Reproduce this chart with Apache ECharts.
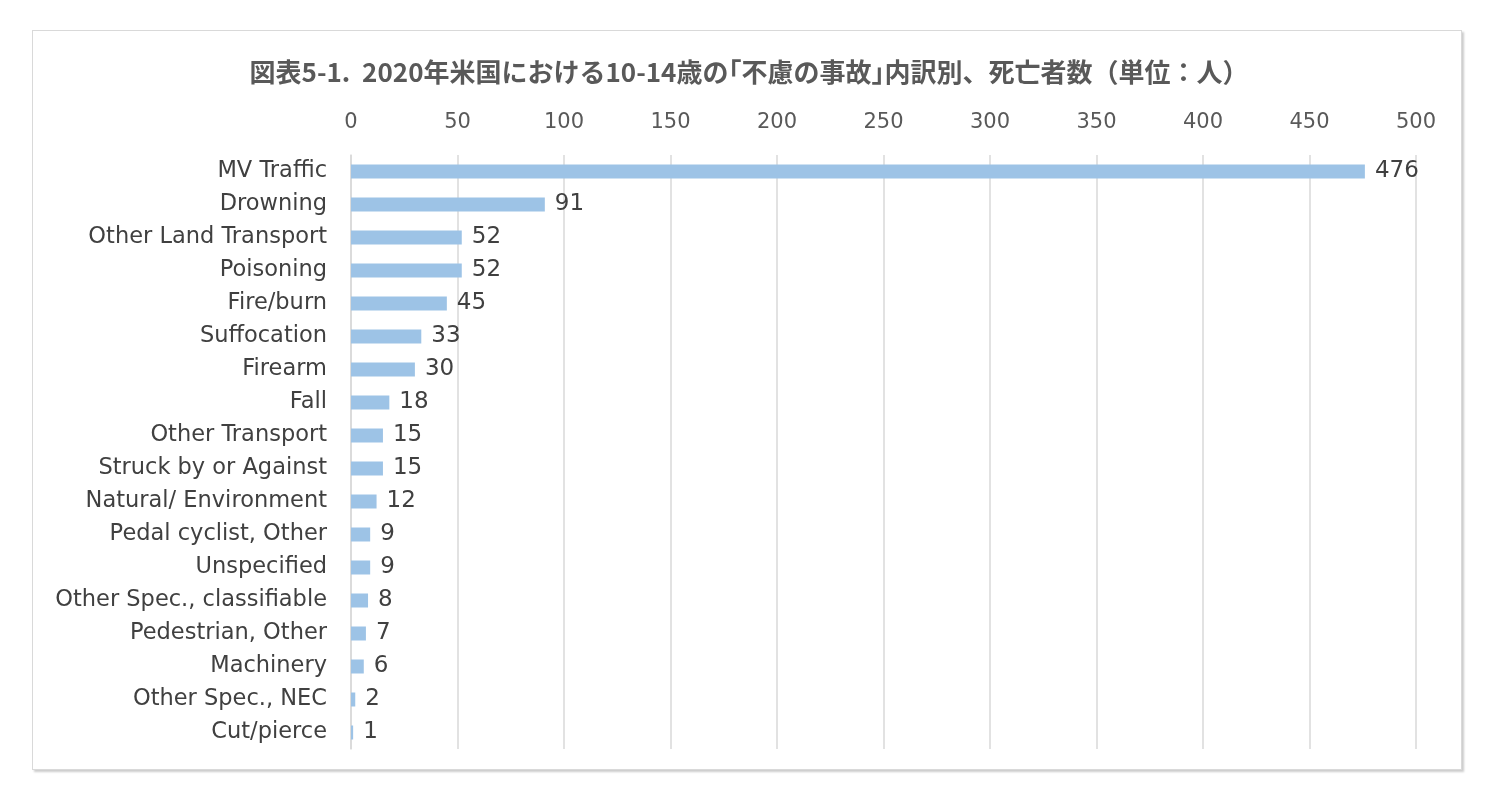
<!DOCTYPE html>
<html><head><meta charset="utf-8">
<script src="https://cdn.jsdelivr.net/npm/echarts@6/dist/echarts.min.js"></script>
<style>html,body{margin:0;padding:0;background:#fff}
#frame{position:absolute;left:32px;top:30px;width:1428px;height:738px;border:1px solid #d9d9d9;box-shadow:2px 2px 2px #ccc}
#c{position:absolute;left:0;top:0;width:1498px;height:798px}</style>
</head><body><div id="frame"></div><div id="c"></div>
<script>
const categories=["MV Traffic","Drowning","Other Land Transport","Poisoning","Fire/burn","Suffocation","Firearm","Fall","Other Transport","Struck by or Against","Natural/ Environment","Pedal cyclist, Other","Unspecified","Other Spec., classifiable","Pedestrian, Other","Machinery","Other Spec., NEC","Cut/pierce"];
const values=[476,91,52,52,45,33,30,18,15,15,12,9,9,8,7,6,2,1];
const title="図表5-1.  2020年米国における10-14歳の｢不慮の事故｣内訳別、死亡者数（単位：人）";
const ch=echarts.init(document.getElementById('c'));
const font='DejaVu Sans, Verdana, sans-serif';
ch.setOption({
  animation:false,
  title:{text:title,left:'center',top:54,textStyle:{fontFamily:'Noto Sans CJK JP',fontWeight:'bold',fontSize:26,color:'#595959'}},
  grid:{left:351,right:82,top:155,height:594,containLabel:false},
  xAxis:{type:'value',position:'top',min:0,max:500,interval:50,
    axisLabel:{fontFamily:font,fontSize:21,color:'#595959',margin:22},
    axisLine:{show:false},axisTick:{show:false},
    splitLine:{lineStyle:{color:'#d9d9d9',width:1.5}}},
  yAxis:{type:'category',inverse:true,data:categories,
    axisLabel:{fontFamily:font,fontSize:22.5,color:'#404040',margin:24},
    axisLine:{lineStyle:{color:'#d9d9d9',width:1.5}},axisTick:{show:false}},
  series:[{type:'bar',data:values,barWidth:14,itemStyle:{color:'#9dc3e6'},
    label:{show:true,position:'right',distance:10,fontFamily:font,fontSize:23,color:'#404040'}}]
});
</script></body></html>
